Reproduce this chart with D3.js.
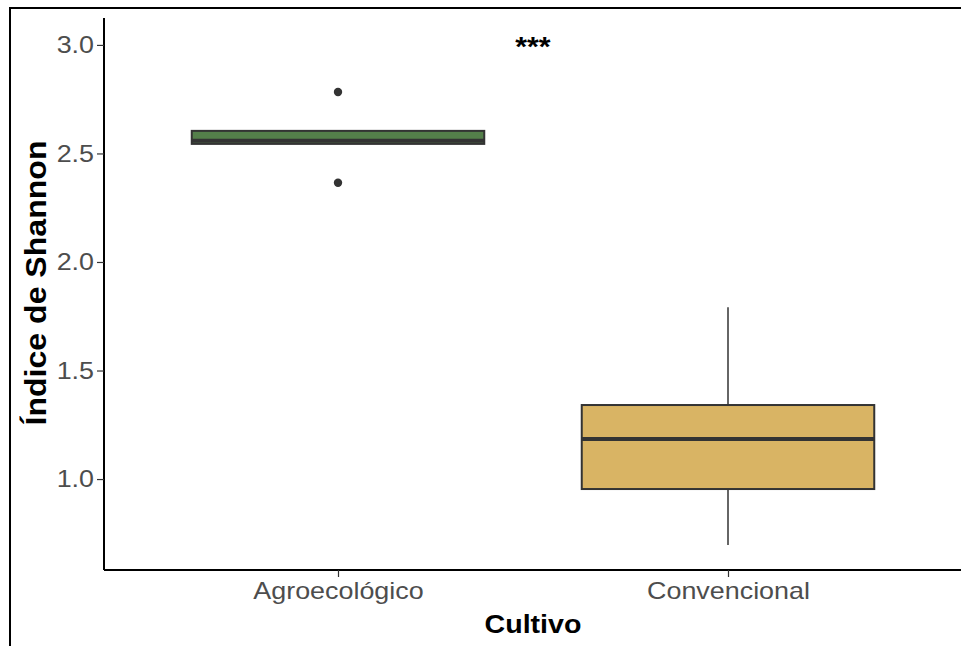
<!DOCTYPE html>
<html>
<head>
<meta charset="utf-8">
<script src="https://cdn.jsdelivr.net/npm/d3@7"></script>
<style>
  body { margin: 0; background: #fff; }
  svg { display: block; font-family: "Liberation Sans", Arial, sans-serif; }
</style>
</head>
<body>
<svg id="chart" width="961" height="646"></svg>
<script>
// values
var categories = ["Agroecológico", "Convencional"];
var whiskerLow = [2.544, 0.696];
var q1 = [2.544, 0.954];
var median = [2.558, 1.184];
var q3 = [2.604, 1.341];
var whiskerHigh = [2.608, 1.791];
var outliers = [[2.783, 2.365], []];
var fills = ["#547f4a", "#d9b464"];
var yTicks = [1.0, 1.5, 2.0, 2.5, 3.0];

var svg = d3.select("#chart");

// the picture's text is a bit wider than Liberation Sans, stretch it
function stretch(sel, k) {
    sel.each(function () {
        var w = this.getComputedTextLength();
        d3.select(this).attr("textLength", w * k).attr("lengthAdjust", "spacingAndGlyphs");
    });
}

// outer frame, cut off at right and bottom like the picture
svg.append("rect")
    .attr("x", 10).attr("y", 8)
    .attr("width", 1000).attr("height", 700)
    .attr("fill", "none").attr("stroke", "#000").attr("stroke-width", 2);

var pLeft = 104, pRight = 962, pTop = 18, pBottom = 570;

var x = d3.scalePoint().domain(categories).range([pLeft, pRight]).padding(0.6);
var y = d3.scaleLinear().domain([0.581, 3.124]).range([pBottom, pTop]);
var boxW = x.step() * 0.75;

var boxes = categories.map(function (c, i) {
    return { cat: c, lo: whiskerLow[i], q1: q1[i], med: median[i], q3: q3[i], hi: whiskerHigh[i], out: outliers[i], fill: fills[i] };
});

var g = svg.append("g");

// whiskers
g.selectAll(".wh-up").data(boxes).enter().append("line")
    .attr("x1", d => x(d.cat)).attr("x2", d => x(d.cat))
    .attr("y1", d => y(d.q3)).attr("y2", d => y(d.hi))
    .attr("stroke", "#333").attr("stroke-width", 1.5);
g.selectAll(".wh-dn").data(boxes).enter().append("line")
    .attr("x1", d => x(d.cat)).attr("x2", d => x(d.cat))
    .attr("y1", d => y(d.q1)).attr("y2", d => y(d.lo))
    .attr("stroke", "#333").attr("stroke-width", 1.5);

// boxes
g.selectAll(".box").data(boxes).enter().append("rect")
    .attr("x", d => x(d.cat) - boxW / 2)
    .attr("width", boxW)
    .attr("y", d => y(d.q3))
    .attr("height", d => y(d.q1) - y(d.q3))
    .attr("fill", d => d.fill)
    .attr("stroke", "#333").attr("stroke-width", 2);

// medians
g.selectAll(".med").data(boxes).enter().append("line")
    .attr("x1", d => x(d.cat) - boxW / 2).attr("x2", d => x(d.cat) + boxW / 2)
    .attr("y1", d => y(d.med)).attr("y2", d => y(d.med))
    .attr("stroke", "#333").attr("stroke-width", 4);

// outliers
boxes.forEach(function (d) {
    g.selectAll(null).data(d.out).enter().append("circle")
        .attr("cx", x(d.cat)).attr("cy", v => y(v)).attr("r", 4.2)
        .attr("fill", "#333");
});

// axes
var yAxis = svg.append("g").attr("transform", "translate(" + pLeft + ",0)")
    .call(d3.axisLeft(y).tickValues(yTicks).tickFormat(d3.format(".1f")).tickSize(7).tickPadding(3));
var xAxis = svg.append("g").attr("transform", "translate(0," + pBottom + ")")
    .call(d3.axisBottom(x).tickSize(7).tickPadding(3));

[yAxis, xAxis].forEach(function (a) {
    a.select(".domain").attr("stroke", "#000").attr("stroke-width", 2);
    a.selectAll(".tick line").attr("stroke", "#333").attr("stroke-width", 1.2);
    a.selectAll(".tick text").attr("fill", "#4d4d4d").style("font-size", "24px");
    stretch(a.selectAll(".tick text"), 1.12);
});
yAxis.select(".domain").attr("d", "M0," + pTop + "V" + pBottom);
xAxis.select(".domain").attr("d", "M" + pLeft + ",0H" + pRight);
xAxis.selectAll(".tick text").attr("dy", "0.8em");

// titles
var xt = svg.append("text")
    .attr("x", (pLeft + pRight) / 2).attr("y", 633)
    .attr("text-anchor", "middle")
    .style("font-size", "26px").style("font-weight", "bold")
    .text("Cultivo");
stretch(xt, 1.1);

svg.append("text")
    .attr("transform", "translate(46,283) rotate(-90)")
    .attr("text-anchor", "middle")
    .style("font-size", "29px").style("font-weight", "bold")
    .attr("textLength", 285).attr("lengthAdjust", "spacingAndGlyphs")
    .text("Índice de Shannon");

// significance marker
var st = svg.append("text")
    .attr("x", (x(categories[0]) + x(categories[1])) / 2).attr("y", 56)
    .attr("text-anchor", "middle")
    .style("font-size", "27px").style("font-weight", "bold")
    .text("***");
stretch(st, 1.12);
</script>
</body>
</html>
